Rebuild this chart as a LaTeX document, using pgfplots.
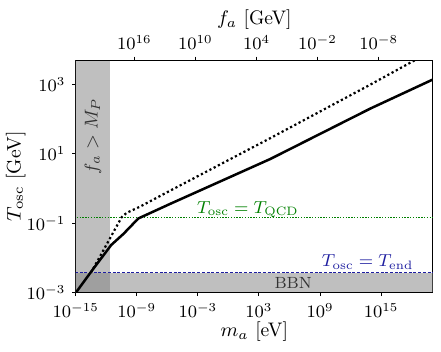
\documentclass[border=0pt]{standalone}
\usepackage{fix-cm}
\usepackage{pgfplots}
\pgfplotsset{compat=1.18}
\definecolor{mplgreen}{RGB}{0,128,0}
\definecolor{mplblue}{RGB}{30,30,160}

\begin{document}
\begin{tikzpicture}
\begin{axis}[
    name=main,
    scale only axis,
    width=178.6pt,
    height=116.4pt,
    xmode=log, ymode=log,
    xmin=1e-15, xmax=1.26e20,
    ymin=1e-3, ymax=5e3,
    xtick={1e-15,1e-9,1e-3,1e3,1e9,1e15},
    ytick={1e-3,1e-1,1e1,1e3},
    minor tick num=0,
    xtick pos=left, ytick pos=left,
    tick align=outside,
    major tick length=1.65pt,
    axis line style={line width=0.5pt},
    tick style={black, line width=0.45pt},
    tick label style={font=\fontsize{8.7}{10}\selectfont},
    label style={font=\fontsize{9.8}{12}\selectfont},
    xlabel={$m_a$ [eV]},
    ylabel={$T_\mathrm{osc}$ [GeV]},
    xlabel style={at={(axis description cs:0.5,-0.168)}, anchor=center},
    ylabel style={at={(axis description cs:-0.168,0.5)}, anchor=center},
]

% excluded regions
\addplot[draw=none, fill=gray, fill opacity=0.5] coordinates {
    (1e-16,1e-4) (2.34e-12,1e-4) (2.34e-12,1e5) (1e-16,1e5)
};
\addplot[draw=none, fill=gray, fill opacity=0.5] coordinates {
    (1e-16,1e-4) (1e21,1e-4) (1e21,3.8e-3) (1e-16,3.8e-3)
};

% reference temperatures
\addplot[mplgreen, line width=0.7pt, dash pattern=on 0.7pt off 0.7pt] coordinates {
    (1e-16,0.15) (1e21,0.15)
};
\addplot[mplblue, line width=0.5pt, dash pattern=on 1.5pt off 0.85pt] coordinates {
    (1e-16,3.8e-3) (1e21,3.8e-3)
};

% T_osc, solid
\addplot[black, line width=1.25pt] coordinates {
    (1e-15,1e-3) (5.0e-14,4.8e-3) (3.16e-12,0.024) (5.0e-11,0.050)
    (1.41e-9,0.138) (1.9e-6,0.363) (1.29e4,7.08) (8.7e13,200) (1.26e20,1380)
};

% T_osc, dotted
\addplot[black, line width=1.1pt, dash pattern=on 1.1pt off 1.3pt] coordinates {
    (3.16e-14,3.8e-3) (3.3e-11,0.151) (1.0e-10,0.20) (2.0e-9,0.30)
    (1.9e-6,0.87) (1.29e4,28.2) (8.7e13,977) (1.26e20,9550)
};

\node[rotate=90, text=black!80, font=\fontsize{9.3}{11}\selectfont]
    at (axis cs:5e-14,32.8) {$f_a > M_P$};
\node[text=black!80, font=\fontsize{8.1}{10}\selectfont]
    at (axis cs:2.3e6,1.9e-3) {BBN};
\node[anchor=base west, text=mplgreen, inner sep=0pt, font=\fontsize{8.7}{10}\selectfont]
    at (axis cs:7.9e-4,0.194) {$T_\mathrm{osc}=T_\mathrm{QCD}$};
\node[anchor=base east, text=mplblue, inner sep=0pt, font=\fontsize{8.7}{10}\selectfont]
    at (axis cs:1.6e18,5.6e-3) {$T_\mathrm{osc}=T_\mathrm{end}$};
\end{axis}

% top axis: f_a
\begin{axis}[
    at={(main.south west)}, anchor=south west,
    scale only axis,
    width=178.6pt,
    height=116.4pt,
    xmode=log,
    x dir=reverse,
    xmin=4.57e-14, xmax=5.75e21,
    ymin=0, ymax=1,
    hide y axis,
    xtick={1e16,1e10,1e4,1e-2,1e-8},
    minor tick num=0,
    xtick pos=right, xticklabel pos=right,
    tick align=outside,
    major tick length=1.65pt,
    axis line style={line width=0.5pt},
    tick style={black, line width=0.45pt},
    tick label style={font=\fontsize{8.7}{10}\selectfont},
    label style={font=\fontsize{9.8}{12}\selectfont},
    xlabel={$f_a$ [GeV]},
    xlabel style={at={(axis description cs:0.5,1.172)}, anchor=center},
]
\end{axis}

\pgfresetboundingbox
\path[use as bounding box] ([shift={(-37.85pt,-29.15pt)}]main.south west)
    rectangle ([shift={(4pt,30pt)}]main.north east);
\end{tikzpicture}
\end{document}
